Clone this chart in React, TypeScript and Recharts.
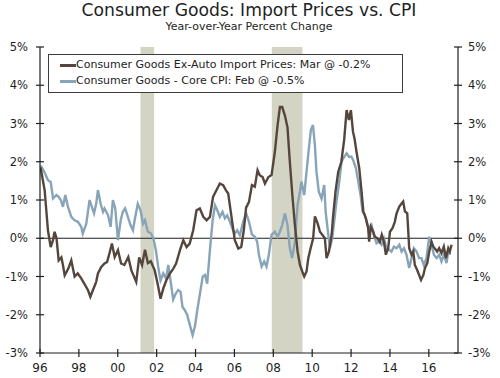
import React from 'react';
import {
  ComposedChart, Line, XAxis, YAxis, ReferenceArea, ReferenceLine, Legend,
} from 'recharts';

// Consumer Goods Ex-Auto Import Prices, YoY %
const importT = [
  1996.03, 1996.24, 1996.41, 1996.55, 1996.67, 1996.75, 1996.85, 1996.96, 1997.1, 1997.18,
  1997.27, 1997.45, 1997.61, 1997.78, 1997.94, 1998.12, 1998.27, 1998.47, 1998.59, 1998.72,
  1998.89, 1998.98, 1999.15, 1999.32, 1999.45, 1999.57, 1999.7, 1999.84, 2000.01, 2000.17,
  2000.34, 2000.54, 2000.7, 2000.95, 2001.1, 2001.25, 2001.4, 2001.55, 2001.7, 2001.9,
  2002.05, 2002.2, 2002.35, 2002.5, 2002.68, 2002.85, 2003.0, 2003.2, 2003.37, 2003.54,
  2003.7, 2003.88, 2004.05, 2004.22, 2004.4, 2004.57, 2004.74, 2004.9, 2005.08, 2005.25,
  2005.42, 2005.56, 2005.68, 2005.85, 2006.02, 2006.2, 2006.35, 2006.48, 2006.6, 2006.75,
  2006.9, 2007.05, 2007.19, 2007.3, 2007.45, 2007.57, 2007.75, 2007.91, 2008.08, 2008.22,
  2008.34, 2008.46, 2008.6, 2008.73, 2008.85, 2008.98, 2009.11, 2009.25, 2009.37, 2009.49,
  2009.59, 2009.71, 2009.8, 2009.92, 2010.05, 2010.14, 2010.28, 2010.4, 2010.52, 2010.65,
  2010.74, 2010.86, 2011.0, 2011.08, 2011.2, 2011.34, 2011.5, 2011.65, 2011.77, 2011.89,
  2011.99, 2012.1, 2012.18, 2012.28, 2012.42, 2012.54, 2012.63, 2012.76, 2012.88, 2012.93,
  2013.02, 2013.14, 2013.22, 2013.35, 2013.48, 2013.58, 2013.69, 2013.79, 2013.91, 2014.0,
  2014.13, 2014.25, 2014.34, 2014.48, 2014.6, 2014.68, 2014.77, 2014.89, 2014.99, 2015.11,
  2015.2, 2015.28, 2015.4, 2015.5, 2015.6, 2015.72, 2015.8, 2015.92, 2016.02, 2016.14,
  2016.23, 2016.36, 2016.43, 2016.53, 2016.65, 2016.77, 2016.88, 2017.0, 2017.08, 2017.17,
];
const importV = [
  1.85, 1.25, 0.2, -0.23, -0.05, 0.17, 0.0, -0.58, -0.5, -0.7,
  -0.97, -0.8, -0.58, -1.0, -0.92, -1.05, -1.18, -1.36, -1.53, -1.36,
  -1.14, -0.92, -0.75, -0.66, -0.62, -0.4, -0.14, -0.49, -0.31, -0.66,
  -0.7, -0.49, -0.84, -1.14, -0.5, -0.7, -0.3, -0.65, -0.6, -0.84,
  -1.19, -1.58, -1.3, -1.1, -0.92, -0.8, -0.66, -0.31, -0.05, -0.23,
  -0.14, 0.21, 0.73, 0.78, 0.56, 0.47, 0.56, 1.08, 1.26, 1.43,
  1.39, 1.26, 1.17, 0.56, -0.05, -0.27, -0.23, 0.2, 0.8, 0.95,
  1.39, 1.35, 1.78, 1.65, 1.6, 1.43, 1.6, 1.65, 2.26, 2.96,
  3.43, 3.43, 3.2, 2.9, 2.0, 1.13, 0.35, -0.35, -0.7, -0.87,
  -1.0, -0.87, -0.52, -0.26, 0.0, 0.57, 0.39, 0.17, 0.09, 0.0,
  -0.52, -0.35, 0.09, 0.6, 1.22, 1.74, 2.0, 2.6, 3.35, 3.09,
  3.35, 2.78, 2.6, 2.26, 1.83, 1.22, 0.7, 0.52, 0.26, -0.09,
  0.3, 0.17, 0.04, 0.0, -0.09, 0.09, -0.09, -0.43, -0.26, 0.17,
  0.26, 0.43, 0.65, 0.83, 0.91, 0.96, 0.7, 0.65, -0.26, -0.43,
  -0.35, -0.7, -0.83, -0.96, -1.09, -0.96, -0.78, -0.65, -0.35, -0.09,
  -0.22, -0.3, -0.35, -0.26, -0.39, -0.22, -0.52, -0.26, -0.35, -0.17,
];

// Consumer Goods - Core CPI, YoY %
const cpiT = [
  1996.03, 1996.15, 1996.27, 1996.41, 1996.55, 1996.67, 1996.84, 1996.96, 1997.07, 1997.18,
  1997.3, 1997.44, 1997.61, 1997.78, 1997.95, 1998.12, 1998.2, 1998.38, 1998.55, 1998.64,
  1998.78, 1998.89, 1998.98, 1999.12, 1999.24, 1999.32, 1999.5, 1999.63, 1999.75, 1999.87,
  2000.01, 2000.15, 2000.26, 2000.38, 2000.52, 2000.66, 2000.78, 2000.9, 2001.03, 2001.17,
  2001.3, 2001.4, 2001.55, 2001.7, 2001.83, 2001.96, 2002.08, 2002.2, 2002.34, 2002.48,
  2002.6, 2002.72, 2002.85, 2002.99, 2003.11, 2003.23, 2003.33, 2003.45, 2003.57, 2003.71,
  2003.85, 2003.97, 2004.09, 2004.23, 2004.37, 2004.49, 2004.6, 2004.74, 2004.88, 2005.0,
  2005.12, 2005.25, 2005.39, 2005.51, 2005.63, 2005.77, 2005.9, 2006.02, 2006.14, 2006.28,
  2006.45, 2006.6, 2006.75, 2006.9, 2007.05, 2007.17, 2007.26, 2007.4, 2007.53, 2007.65,
  2007.77, 2007.91, 2008.08, 2008.22, 2008.34, 2008.46, 2008.6, 2008.73, 2008.85, 2008.97,
  2009.11, 2009.25, 2009.37, 2009.45, 2009.59, 2009.71, 2009.83, 2009.93, 2010.04, 2010.14,
  2010.22, 2010.34, 2010.48, 2010.62, 2010.69, 2010.79, 2010.91, 2011.03, 2011.13, 2011.25,
  2011.37, 2011.51, 2011.65, 2011.77, 2011.89, 2012.02, 2012.11, 2012.25, 2012.37, 2012.49,
  2012.59, 2012.71, 2012.83, 2012.93, 2013.05, 2013.17, 2013.31, 2013.45, 2013.57, 2013.69,
  2013.82, 2013.96, 2014.08, 2014.2, 2014.34, 2014.48, 2014.6, 2014.72, 2014.85, 2014.99,
  2015.11, 2015.23, 2015.37, 2015.5, 2015.62, 2015.74, 2015.88, 2016.02, 2016.14, 2016.26,
  2016.4, 2016.53, 2016.65, 2016.77, 2016.91, 2017.0, 2017.08,
];
const cpiV = [
  1.9, 1.8, 1.68, 1.52, 1.47, 1.04, 1.13, 1.08, 1.0, 0.82,
  1.13, 0.82, 0.56, 0.47, 0.43, 0.3, 0.12, 0.38, 1.0, 0.86,
  0.65, 0.9, 1.26, 0.9, 0.69, 0.78, 0.6, 0.3, 1.0, 0.78,
  -0.05, 0.47, 0.69, 0.78, 0.56, 0.34, 0.21, 0.56, 0.9, 0.73,
  0.38, 0.47, 0.17, 0.13, 0.0, -0.31, -0.75, -1.1, -0.92, -1.05,
  -0.7, -1.13, -1.6, -1.44, -1.35, -1.4, -1.8, -1.88, -2.0, -2.27,
  -2.53, -2.3, -1.88, -1.44, -1.0, -0.96, -1.19, -0.31, 0.47, 0.86,
  0.73, 0.56, 0.69, 0.52, 0.6, 0.43, 0.25, 0.12, 0.21, 0.08,
  0.43, 0.66, 0.43, 0.1, 0.04, -0.09, -0.43, -0.74, -0.61, -0.74,
  -0.43, 0.09, 0.17, 0.04, 0.17, 0.35, 0.65, 0.35, -0.26, -0.52,
  -0.09, 0.87, 1.22, 1.48, 1.13, 1.74, 2.35, 2.83, 2.96, 2.43,
  1.74, 1.22, 1.04, 1.39, 0.7, 0.26, -0.26, 0.0, 0.43, 0.96,
  1.39, 2.0, 2.13, 2.22, 2.13, 2.13, 2.04, 1.83, 1.48, 1.13,
  0.7, 0.61, 0.39, 0.26, 0.35, 0.09, -0.13, -0.09, -0.17, 0.0,
  -0.26, -0.3, -0.35, -0.22, -0.26, -0.17, -0.35, -0.26, -0.43, -0.78,
  -0.52, -0.26, -0.35, -0.52, -0.52, -0.7, -0.52, 0.04, -0.17, -0.43,
  -0.52, -0.43, -0.61, -0.43, -0.65, -0.35, -0.43,
];

const recessions = [
  [2001.17, 2001.87],
  [2007.92, 2009.5],
];
const yTicks = [-3, -2, -1, 0, 1, 2, 3, 4, 5];
const xTicks = [1996, 1998, 2000, 2002, 2004, 2006, 2008, 2010, 2012, 2014, 2016];
const importLabel = 'Consumer Goods Ex-Auto Import Prices: Mar @ -0.2%';
const cpiLabel = 'Consumer Goods - Core CPI: Feb @ -0.5%';

const importData = importT.map((t, i) => ({ t, v: importV[i] }));
const cpiData = cpiT.map((t, i) => ({ t, v: cpiV[i] }));

const BROWN = '#54463c';
const BLUE = '#87a4b8';
const INK = '#1e1e1e';
const FONT = '"DejaVu Sans", Verdana, sans-serif';

const LeftTick = (p: any) => {
  const ax = p.x + 12;
  return (
    <g>
      <line x1={ax - 4} x2={ax + 4} y1={p.y} y2={p.y} stroke={INK} strokeWidth={1.2} />
      <text x={p.x} y={p.y} dy={4} textAnchor="end" fontSize={11.5} fill={INK} fontFamily={FONT}>
        {p.payload.value}%
      </text>
    </g>
  );
};

const RightTick = (p: any) => {
  const ax = p.x - 10;
  return (
    <g>
      <line x1={ax - 4} x2={ax + 4} y1={p.y} y2={p.y} stroke={INK} strokeWidth={1.2} />
      <text x={p.x} y={p.y} dy={4} textAnchor="start" fontSize={11.5} fill={INK} fontFamily={FONT}>
        {p.payload.value}%
      </text>
    </g>
  );
};

const BottomTick = (p: any) => {
  const ay = p.y - 10;
  return (
    <g>
      <line x1={p.x} x2={p.x} y1={ay - 4} y2={ay + 4} stroke={INK} strokeWidth={1.2} />
      <text x={p.x} y={p.y} dy="0.71em" textAnchor="middle" fontSize={12} fill={INK} fontFamily={FONT}>
        {String(p.payload.value).slice(2)}
      </text>
    </g>
  );
};

const LegendBox = () => (
  <div
    style={{
      border: '1.5px solid #3c3c3c',
      background: '#fff',
      padding: '2px 0 3px 11px',
      fontFamily: FONT,
      fontSize: 11,
      color: INK,
      lineHeight: '16px',
      boxSizing: 'border-box',
    }}
  >
    {[
      { c: BROWN, l: importLabel },
      { c: BLUE, l: cpiLabel },
    ].map((r) => (
      <div key={r.l} style={{ display: 'flex', alignItems: 'center', whiteSpace: 'nowrap' }}>
        <span style={{ display: 'inline-block', width: 16, height: 3, background: r.c }} />
        <span>{r.l}</span>
      </div>
    ))}
  </div>
);

export default function App() {
  return (
    <div style={{ position: 'absolute', left: 0, top: 0, width: 500, height: 378, background: '#fff' }}>
      <div
        style={{
          position: 'absolute', left: 0, top: 0, width: 500, textAlign: 'center',
          fontFamily: FONT, color: INK,
        }}
      >
        <div style={{ fontSize: 17.2, lineHeight: '20px', marginLeft: -2 }}>Consumer Goods: Import Prices vs. CPI</div>
        <div style={{ fontSize: 11, lineHeight: '14px', marginLeft: -2 }}>Year-over-Year Percent Change</div>
      </div>
      <ComposedChart width={500} height={378} margin={{ top: 47, right: 0, left: 0, bottom: 0 }}>
        {recessions.map(([a, b]) => (
          <ReferenceArea key={a} x1={a} x2={b} yAxisId="left" fill="#d4d4c4" fillOpacity={1} stroke="none" />
        ))}
        <XAxis
          xAxisId="top"
          orientation="top"
          type="number"
          dataKey="t"
          domain={[1996, 2017.5]}
          height={0}
          tick={false}
          tickLine={false}
          axisLine={{ stroke: INK, strokeWidth: 1.2 }}
        />
        <XAxis
          type="number"
          dataKey="t"
          domain={[1996, 2017.5]}
          ticks={xTicks}
          height={25}
          tickSize={4}
          tickMargin={6}
          tickLine={false}
          tick={<BottomTick />}
          axisLine={{ stroke: INK, strokeWidth: 1.2 }}
          allowDataOverflow
        />
        <YAxis
          yAxisId="left"
          domain={[-3, 5]}
          ticks={yTicks}
          width={40}
          tickSize={4}
          tickMargin={8}
          tickLine={false}
          tick={<LeftTick />}
          axisLine={{ stroke: INK, strokeWidth: 1.2 }}
          allowDataOverflow
        />
        <YAxis
          yAxisId="right"
          orientation="right"
          domain={[-3, 5]}
          ticks={yTicks}
          width={42}
          tickSize={4}
          tickMargin={6}
          tickLine={false}
          tick={<RightTick />}
          axisLine={{ stroke: INK, strokeWidth: 1.2 }}
          allowDataOverflow
        />
        <ReferenceLine y={0} yAxisId="left" stroke={INK} strokeWidth={1.2} />
        <Line
          data={cpiData}
          dataKey="v"
          yAxisId="left"
          type="linear"
          stroke={BLUE}
          strokeWidth={2.4}
          dot={false}
          isAnimationActive={false}
          name={cpiLabel}
        />
        <Line
          data={importData}
          dataKey="v"
          yAxisId="left"
          type="linear"
          stroke={BROWN}
          strokeWidth={2.4}
          dot={false}
          isAnimationActive={false}
          name={importLabel}
        />
        <Legend
          layout="horizontal"
          verticalAlign="middle"
          align="center"
          content={<LegendBox />}
          wrapperStyle={{ left: 48, top: 54, width: 355, height: 34 }}
        />
      </ComposedChart>
    </div>
  );
}
